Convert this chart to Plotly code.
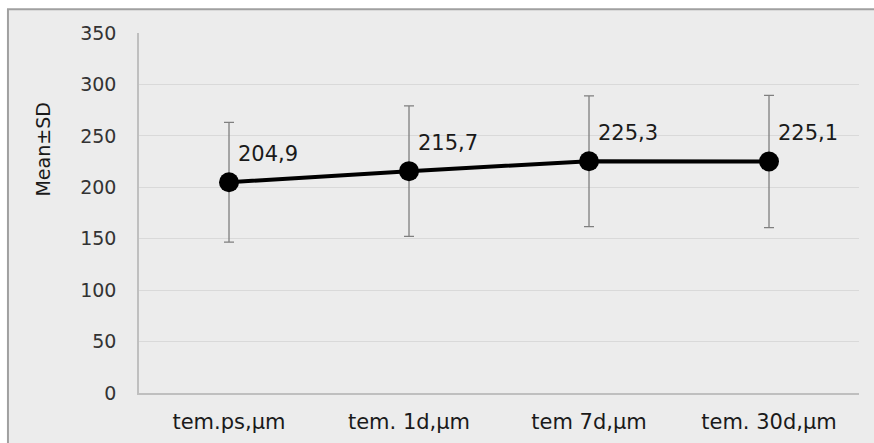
import plotly.graph_objects as go

# Measurements at each time point (mean and standard deviation, µm)
categories = ["tem.ps,\u03bcm", "tem. 1d,\u03bcm", "tem 7d,\u03bcm", "tem. 30d,\u03bcm"]
means = [204.9, 215.7, 225.3, 225.1]
sds = [58.2, 63.4, 63.5, 64.3]
y_ticks = [0, 50, 100, 150, 200, 250, 300, 350]

BG = "#ececec"
FONT = "DejaVu Sans"

fig = go.Figure()

fig.add_trace(go.Scatter(
    x=categories,
    y=means,
    mode="lines+markers",
    line=dict(color="black", width=4),
    marker=dict(color="black", size=20),
    error_y=dict(type="data", array=sds, visible=True,
                 color="#7f7f7f", thickness=1.3, width=5),
    showlegend=False,
    hoverinfo="skip",
))

# Value labels placed up and to the right of each point
for c, m in zip(categories, means):
    fig.add_annotation(
        x=c, y=m, xref="x", yref="y",
        text=f"{m:.1f}".replace(".", ","),
        showarrow=False, xanchor="left", yanchor="middle",
        xshift=7, yshift=28,
        font=dict(family=FONT, size=21, color="#1a1a1a"),
    )

# Rotated y-axis caption
fig.add_annotation(
    text="Mean\u00b1SD", xref="paper", yref="paper",
    x=-0.134, y=0.675, showarrow=False, textangle=-90,
    xanchor="center", yanchor="middle",
    font=dict(family=FONT, size=19, color="#1a1a1a"),
)

# Chart frame behind everything
fig.add_shape(
    type="rect", xref="paper", yref="paper", layer="below",
    x0=-0.182, x1=1.3, y0=-0.3, y1=1.066,
    fillcolor=BG, line=dict(color="#a0a0a0", width=2),
)

fig.update_layout(
    width=874, height=443,
    margin=dict(l=139, r=15, t=33, b=50, autoexpand=False),
    paper_bgcolor="white",
    plot_bgcolor=BG,
    font=dict(family=FONT),
    xaxis=dict(
        type="category", range=[-0.5, 3.5], automargin=False,
        showgrid=False, showline=True, linecolor="#bfbfbf", linewidth=1.5,
        ticks="", ticklabelstandoff=9,
        tickfont=dict(family=FONT, size=21, color="#1a1a1a"),
        zeroline=False,
    ),
    yaxis=dict(
        range=[0, 350], tickvals=y_ticks, automargin=False,
        showgrid=True, gridcolor="#d9d9d9", gridwidth=1,
        showline=True, linecolor="#bfbfbf", linewidth=1.5,
        ticks="", ticklabelstandoff=17,
        tickfont=dict(family=FONT, size=19, color="#333333"),
        zeroline=False,
    ),
)

fig.write_html("out.html")
